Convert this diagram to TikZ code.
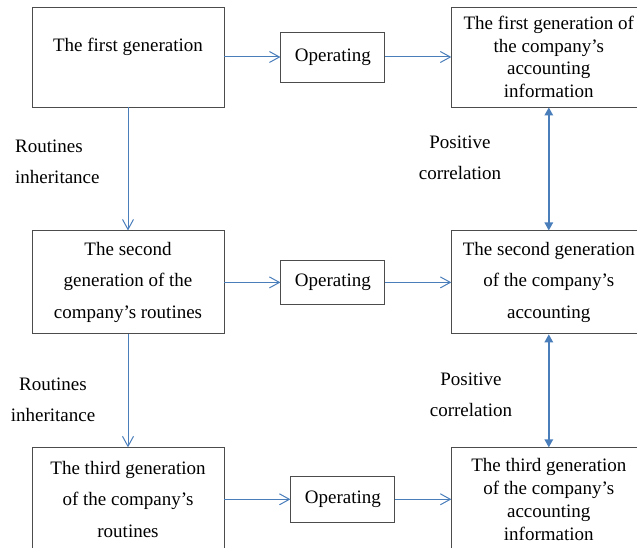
\documentclass[tikz,border=0pt]{standalone}
\usepackage{fontspec}
\setmainfont{Liberation Serif}
\usepackage{xcolor}
\usetikzlibrary{arrows.meta, positioning}
\definecolor{linkblue}{RGB}{74,126,187}

\begin{document}
\begin{tikzpicture}[
    x=1pt, y=-1pt,
    node distance=56pt,
    font=\fontsize{19}{31.5}\selectfont,
    genbox/.style={rectangle, draw=black!70, line width=0.9pt, minimum width=192pt, minimum height=103pt, align=center, inner sep=2pt},
    accbox/.style={genbox, minimum width=194pt},
    opbox/.style={rectangle, draw=black!70, line width=0.9pt, minimum width=104pt, minimum height=48pt},
    tight/.style={font=\fontsize{19}{22.8}\selectfont},
    note/.style={inner sep=0pt},
    arrow/.style={draw=linkblue, line width=1pt, -{Straight Barb[length=10pt,width=11pt]}},
    dblarrow/.style={draw=linkblue, line width=1.4pt, {Triangle[length=8pt,width=8.5pt]}-{Triangle[length=8pt,width=8.5pt]}}
]
    \useasboundingbox (0,0) rectangle (637,548);

    \node[genbox, minimum height=100pt, text height=13pt, text depth=24pt] (gen1) at (128,57) {The first generation};
    \node[opbox, minimum height=50pt, right=of gen1] (op1) {Operating};
    \node[accbox, tight, minimum height=100pt, right=66pt of op1] (acc1) {The first generation of\\the company's\\accounting\\information};

    \node[genbox, below=123pt of gen1] (gen2) {The second\\generation of the\\company's routines};
    \node[opbox, minimum height=44pt, right=of gen2] (op2) {Operating};
    \node[accbox, right=66pt of op2] (acc2) {The second generation\\of the company's\\accounting};

    \node[genbox, below=113pt of gen2] (gen3) {The third generation\\of the company's\\routines};
    \node[opbox, minimum height=46pt, right=66pt of gen3] (op3) {Operating};
    \node[accbox, tight, right=of op3] (acc3) {The third generation\\of the company's\\accounting\\information};

    % Labels
    \node[note, align=left, anchor=west] (inh1) at (15,162) {Routines\\inheritance};
    \node[note, align=center] (inh2) at (53,400) {Routines\\inheritance};
    \node[note, align=center] (pos1) at (460,158) {Positive\\correlation};
    \node[note, align=center] (pos2) at (471,395) {Positive\\correlation};

    % Arrows
    \draw[arrow] (gen1) -- (op1);
    \draw[arrow] (op1) -- (acc1);
    \draw[arrow] (gen2) -- (op2);
    \draw[arrow] (op2) -- (acc2);
    \draw[arrow] (gen3) -- (op3);
    \draw[arrow] (op3) -- (acc3);
    \draw[arrow] (gen1) -- (gen2);
    \draw[arrow] (gen2) -- (gen3);
    \draw[dblarrow] (acc1) -- (acc2);
    \draw[dblarrow] (acc2) -- (acc3);
\end{tikzpicture}
\end{document}
